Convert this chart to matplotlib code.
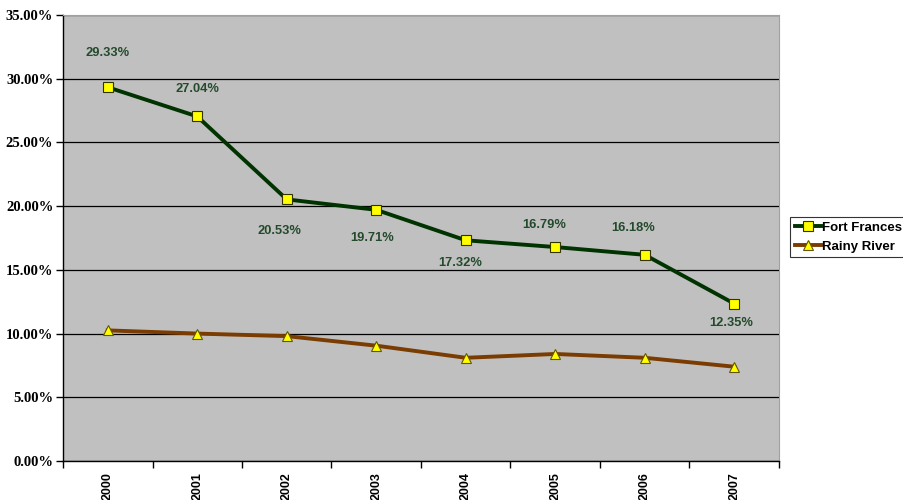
import matplotlib.pyplot as plt
from matplotlib.ticker import FixedLocator, PercentFormatter

years = ["2000", "2001", "2002", "2003", "2004", "2005", "2006", "2007"]
fort_frances = [29.33, 27.04, 20.53, 19.71, 17.32, 16.79, 16.18, 12.35]
rainy_river = [10.25, 10.0, 9.8, 9.05, 8.1, 8.4, 8.1, 7.4]

# label offsets (points) for the Fort Frances value labels
label_dx = [0, 0, -5, -3, -4, -8, -8, -2]
label_dy = [25, 20, -23, -20, -16, 16, 19, -14]

fig = plt.figure(figsize=(9.04, 5.0), dpi=100)
ax = fig.add_axes([0.0697, 0.078, 0.792, 0.892])
ax.set_facecolor("#c0c0c0")

x = list(range(len(years)))
ax.plot(x, fort_frances, color="#003300", linewidth=2.8, marker="s",
        markersize=6.5, markerfacecolor="#ffff00", markeredgecolor="#333300",
        markeredgewidth=0.8, label="Fort Frances", zorder=3)
ax.plot(x, rainy_river, color="#7a3c00", linewidth=2.8, marker="^",
        markersize=7, markerfacecolor="#ffff00", markeredgecolor="#665500",
        markeredgewidth=0.8, label="Rainy River", zorder=3)

for i, v in enumerate(fort_frances):
    ax.annotate(f"{v:.2f}%", (i, v), xytext=(label_dx[i], label_dy[i]),
                textcoords="offset points", ha="center", va="center",
                fontsize=9.3, fontweight="bold", color="#244a2c",
                family="Liberation Sans")

ax.set_xlim(-0.5, len(years) - 0.5)
ax.set_ylim(0, 35)
ax.yaxis.set_major_locator(FixedLocator([0, 5, 10, 15, 20, 25, 30, 35]))
ax.yaxis.set_major_formatter(PercentFormatter(decimals=2))
ax.grid(axis="y", color="black", linewidth=0.9)
ax.set_axisbelow(True)

ax.set_xticks(x)
ax.set_xticklabels(years, rotation=90, fontsize=9, fontweight="bold",
                   family="Liberation Sans")
ax.set_xticks([i - 0.5 for i in range(len(years) + 1)], minor=True)
ax.tick_params(axis="x", which="major", length=0, pad=8)
ax.tick_params(axis="x", which="minor", length=5, width=1, direction="out")
ax.tick_params(axis="y", length=5, width=1, direction="out", pad=2)
for lab in ax.get_yticklabels():
    lab.set_family("Liberation Serif")
    lab.set_fontweight("bold")
    lab.set_fontsize(10.5)

for side in ("left", "bottom"):
    ax.spines[side].set_color("black")
    ax.spines[side].set_linewidth(1)
for side in ("top", "right"):
    ax.spines[side].set_color("#a0a0a0")
    ax.spines[side].set_linewidth(0.8)

leg = fig.legend(loc="upper left", bbox_to_anchor=(0.874, 0.566),
                 frameon=True, fancybox=False, edgecolor="black",
                 handlelength=2.0, handletextpad=0.1, borderpad=0.35,
                 labelspacing=0.5, borderaxespad=0,
                 prop={"family": "Liberation Sans", "weight": "bold", "size": 9.5})
leg.get_frame().set_linewidth(0.8)

fig.savefig("out.png", dpi=100)
